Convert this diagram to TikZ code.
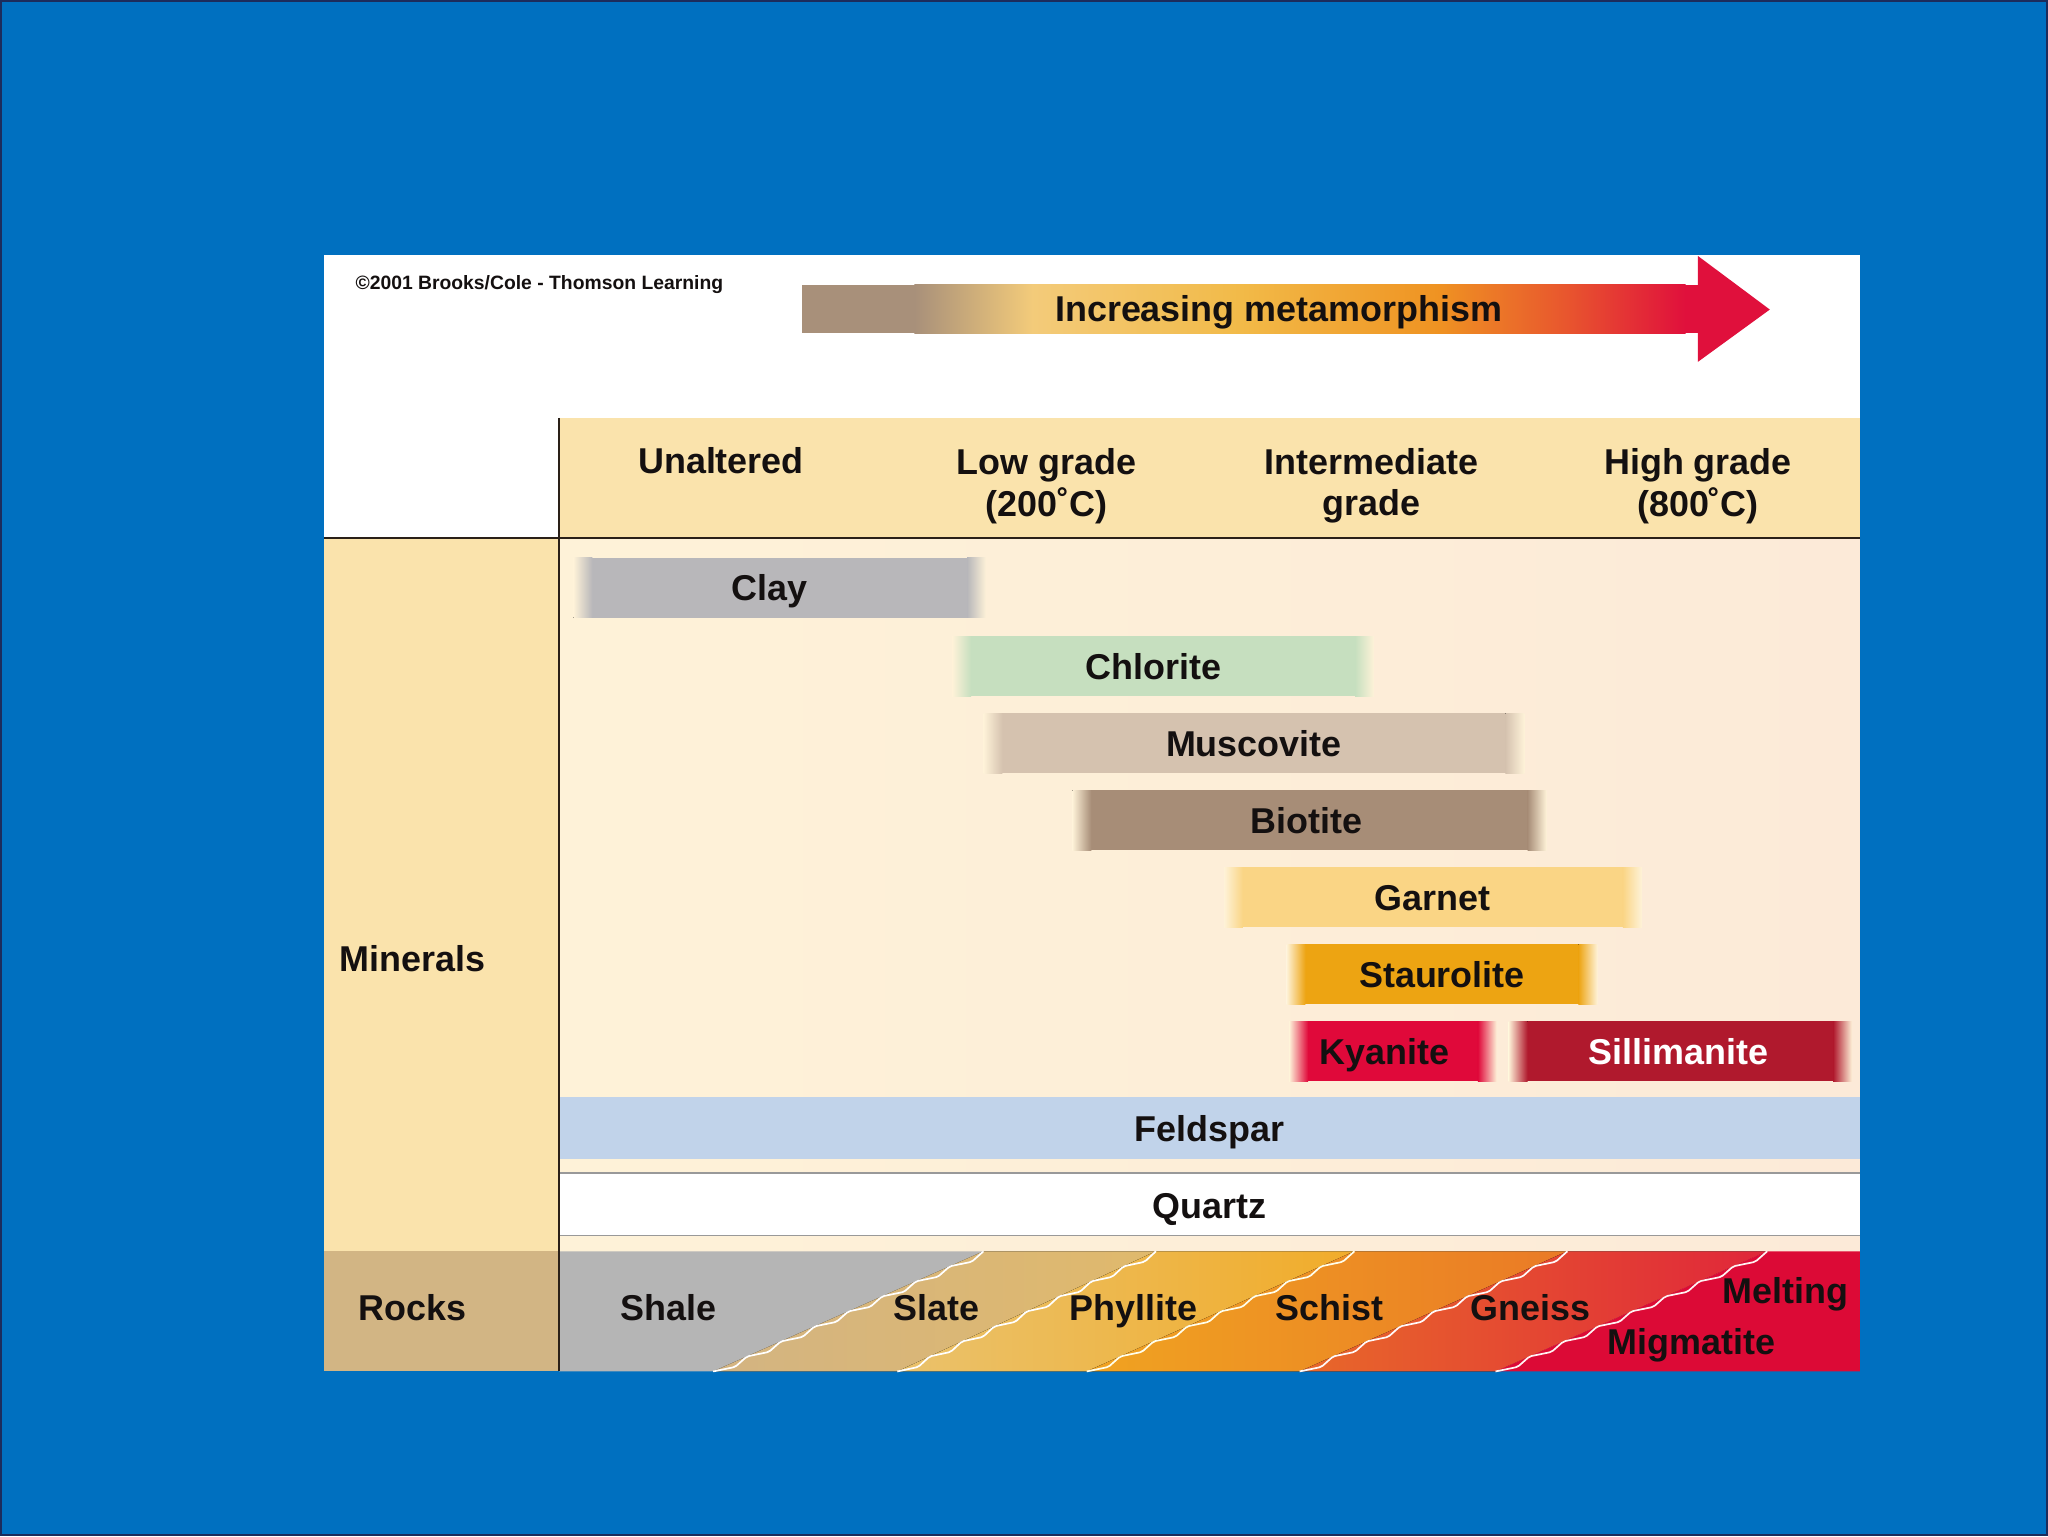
\documentclass[tikz,border=0pt]{standalone}
\usepackage{fontspec}
\setmainfont{Liberation Sans}
\definecolor{bgblue}{HTML}{0070C0}
\definecolor{edgenavy}{HTML}{1C2C5C}
\definecolor{headtan}{HTML}{FAE3AC}
\definecolor{rocktan}{HTML}{D2B584}
\definecolor{mbg}{HTML}{FEF2D8}
\definecolor{mbgr}{HTML}{FCEAD8}
\definecolor{inkc}{HTML}{141010}
\definecolor{rulec}{HTML}{2A2018}
\definecolor{clayc}{HTML}{B8B7BA}
\definecolor{chloc}{HTML}{C6DFBF}
\definecolor{muscc}{HTML}{D5C2AF}
\definecolor{bioc}{HTML}{A78D77}
\definecolor{garc}{HTML}{FAD585}
\definecolor{stauc}{HTML}{EDA412}
\definecolor{kyac}{HTML}{E0093A}
\definecolor{silc}{HTML}{B0192D}
\definecolor{feldc}{HTML}{C1D3EA}
\definecolor{shalec}{HTML}{B5B5B5}
\definecolor{slateL}{HTML}{D3B482}
\definecolor{slateR}{HTML}{E0B96C}
\definecolor{phylL}{HTML}{EAC26C}
\definecolor{phylM}{HTML}{F6CB52}
\definecolor{phylR}{HTML}{F1AC2A}
\definecolor{schL}{HTML}{F0A321}
\definecolor{schR}{HTML}{EA7A26}
\definecolor{gnL}{HTML}{E8682A}
\definecolor{gnR}{HTML}{E0263A}
\definecolor{migc}{HTML}{DC0A36}
\definecolor{arA}{HTML}{A8907A}
\definecolor{arB}{HTML}{F3CB7A}
\definecolor{arC}{HTML}{F2BA48}
\definecolor{arD}{HTML}{EF9322}
\definecolor{arE}{HTML}{E8552E}
\definecolor{arF}{HTML}{E0103C}
% #1 name, #2 x1, #3 x2, #4 ytop, #5 colour, #6 text colour, #7 text, #8 text x
\newcommand\mineralbar[8]{%
  \fill[#5] ({#2+14},#4) rectangle ({#3-14},{#4+46});
  \fill[left color=mbg, right color=#5] (#2,#4) rectangle ({#2+14.5},{#4+46});
  \fill[left color=#5, right color=mbg] ({#3-14.5},#4) rectangle (#3,{#4+46});
  \node[lab, anchor=base, text=#6] (#1) at (#8,{#4+33}) {#7};
}
% stair-like seam: #1 start coordinate, #2 step dx, #3 step dy, #4 colour
\newcommand\stairseam[4]{%
  \draw[#4, line width=1.3, rounded corners=1.5, line join=round] (#1)
    \foreach \k in {1,...,8}{ -- ++({0.65*#2},{0.3*#3}) -- ++({0.35*#2},{0.7*#3}) };
}
\begin{document}
\begin{tikzpicture}[x=1pt,y=-1pt,
  lab/.style={font=\fontsize{27.5}{32}\selectfont\bfseries, inner sep=0pt, text=inkc},
  small/.style={font=\fontsize{14.8}{17}\selectfont\bfseries, inner sep=0pt, text=inkc},
  rule/.style={draw=rulec, line width=2}]
\useasboundingbox (0,0) rectangle (1568,1176);
% background
\fill[bgblue] (0,0) rectangle (1568,1176);
\draw[edgenavy, line width=1.5] (0.75,0.75) rectangle (1567.25,1175.25);
% white panel
\fill[white] (248,195) rectangle (1424,1050);
% header band and left columns
\fill[headtan] (428,320) rectangle (1424,412);
\fill[headtan] (248,412) rectangle (428,958);
\fill[rocktan] (248,958) rectangle (428,1050);
% mineral area
\fill[left color=mbg, right color=mbgr] (428,412) rectangle (1424,958);
% feldspar and quartz
\fill[feldc] (428,840) rectangle (1424,887);
\fill[white] (428,898) rectangle (1424,946);
\draw[draw=black!40, line width=1] (428,898) -- (1424,898);
\draw[draw=black!40, line width=1] (428,946) -- (1424,946);
% mineral bars
\mineralbar{clay}{439}{755}{427}{clayc}{inkc}{Clay}{589}
\mineralbar{chlorite}{729}{1052}{487}{chloc}{inkc}{Chlorite}{883}
\mineralbar{muscovite}{753}{1167}{546}{muscc}{inkc}{Muscovite}{960}
\mineralbar{biotite}{821}{1184}{605}{bioc}{inkc}{Biotite}{1000}
\mineralbar{garnet}{937}{1257}{664}{garc}{inkc}{Garnet}{1097}
\mineralbar{staurolite}{985}{1223}{723}{stauc}{inkc}{Staurolite}{1104}
\mineralbar{kyanite}{987}{1146}{782}{kyac}{inkc}{Kyanite}{1060}
\mineralbar{sillimanite}{1155}{1418}{782}{silc}{white}{Sillimanite}{1285}
\node[lab, anchor=base] (feldspar) at (926,874) {Feldspar};
\node[lab, anchor=base] (quartz) at (926,933) {Quartz};
% rocks row
\fill[shalec] (428,958) -- (753,958) -- (546,1050) -- (428,1050) -- cycle;
\fill[left color=slateL, right color=slateR] (753,958) -- (885,958) -- (687,1050) -- (546,1050) -- cycle;
\fill[left color=phylL, middle color=phylM, right color=phylR] (885,958) -- (1037,958) -- (832,1050) -- (687,1050) -- cycle;
\fill[left color=schL, right color=schR] (1037,958) -- (1200,958) -- (995,1050) -- (832,1050) -- cycle;
\fill[left color=gnL, right color=gnR] (1200,958) -- (1353,958) -- (1145,1050) -- (995,1050) -- cycle;
\fill[migc] (1353,958) -- (1424,958) -- (1424,1050) -- (1145,1050) -- cycle;
\coordinate (b1a) at (546,1050);
\coordinate (b2a) at (687,1050);
\coordinate (b3a) at (832,1050);
\coordinate (b4a) at (995,1050);
\coordinate (b5a) at (1145,1050);
\stairseam{b1a}{25.875}{-11.5}{white}
\stairseam{b2a}{24.75}{-11.5}{white}
\stairseam{b3a}{25.625}{-11.5}{white!92!yellow}
\stairseam{b4a}{25.625}{-11.5}{white!90!pink}
\stairseam{b5a}{26}{-11.5}{white!80!pink}
% rules
\draw[rule] (428,320) -- (428,1050);
\draw[rule] (248,412) -- (1424,412);
% header texts
\node[lab, align=center] (unaltered) at (552,353) {Unaltered};
\node[lab, align=center] (lowgrade) at (801,372) {Low grade\\(200˚C)};
\node[lab, align=center] (intermediate) at (1050,372) {Intermediate\\grade};
\node[lab, align=center] (highgrade) at (1300,372) {High grade\\(800˚C)};
% left labels
\node[lab, anchor=base west] (minerals) at (260,744) {Minerals};
\node[lab, anchor=base] (rocks) at (316,1011) {Rocks};
% rock names
\node[lab, anchor=base] (shale) at (512,1011) {Shale};
\node[lab, anchor=base] (slate) at (717,1011) {Slate};
\node[lab, anchor=base] (phyllite) at (868,1011) {Phyllite};
\node[lab, anchor=base] (schist) at (1018,1011) {Schist};
\node[lab, anchor=base] (gneiss) at (1172,1011) {Gneiss};
\node[lab, anchor=base] (melting) at (1367,998) {Melting};
\node[lab, anchor=base] (migmatite) at (1295,1037) {Migmatite};
% arrow
\fill[arA] (614,218) rectangle (700.5,255);
\fill[left color=arA, right color=arB] (700,218) rectangle (790.5,255);
\fill[left color=arB, right color=arC] (790,218) rectangle (950.5,255);
\fill[left color=arC, right color=arD] (950,218) rectangle (1100.5,255);
\fill[left color=arD, right color=arE] (1100,218) rectangle (1200.5,255);
\fill[left color=arE, right color=arF] (1200,218) rectangle (1290.5,255);
\fill[arF] (1290,218) rectangle (1301,255);
\fill[arF] (1300,196) -- (1355,237) -- (1300,277) -- cycle;
\node[lab, anchor=base] (increasing) at (979,246) {Increasing metamorphism};
% copyright
\node[small, anchor=base west] (copy) at (272,222) {©2001 Brooks/Cole - Thomson Learning};
\end{tikzpicture}
\end{document}
